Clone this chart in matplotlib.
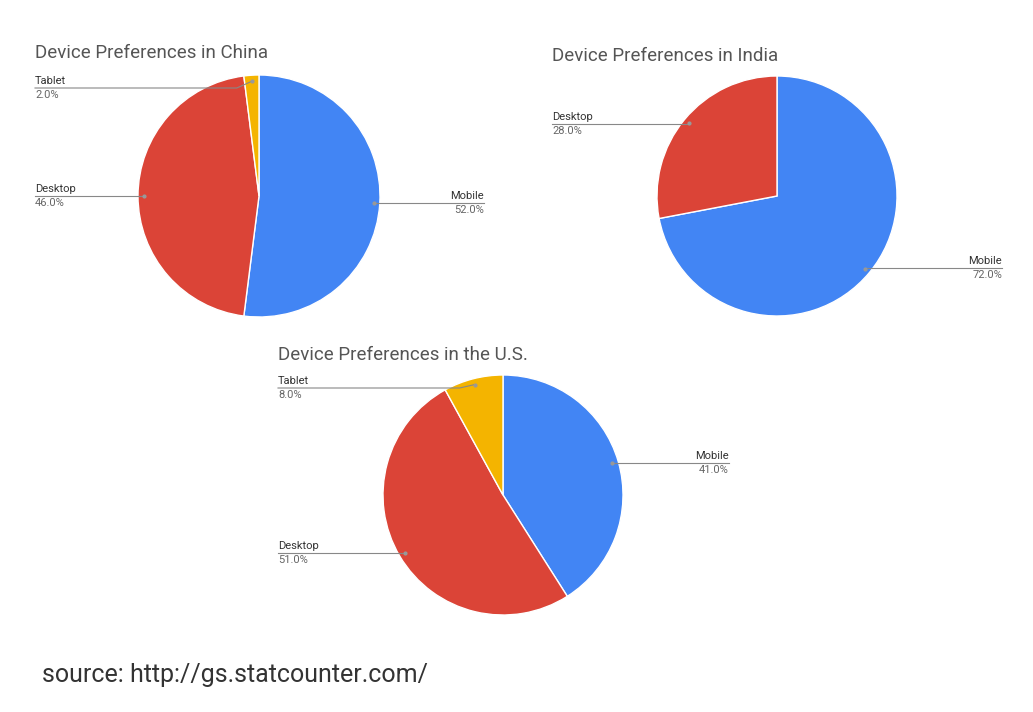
import numpy as np
import matplotlib.pyplot as plt

plt.rcParams['font.family'] = ['Roboto', 'DejaVu Sans']

# data
china_labels = ['Mobile', 'Desktop', 'Tablet']
china_values = [52.0, 46.0, 2.0]
india_labels = ['Mobile', 'Desktop']
india_values = [72.0, 28.0]
us_labels = ['Mobile', 'Desktop', 'Tablet']
us_values = [41.0, 51.0, 8.0]
colors = {'Mobile': '#4285F4', 'Desktop': '#DB4437', 'Tablet': '#F4B400'}

# layout in pixel coords: title, centre, radius, label placement (side, x end, y)
charts = [
    ('Device Preferences in China', china_labels, china_values, (259, 196), 121, (35, 53),
     {'Mobile': ('r', 484, 203), 'Desktop': ('l', 35, 196), 'Tablet': ('l', 35, 88)}),
    ('Device Preferences in India', india_labels, india_values, (777, 196), 120, (552, 56),
     {'Mobile': ('r', 1002, 268), 'Desktop': ('l', 552, 124)}),
    ('Device Preferences in the U.S.', us_labels, us_values, (503, 495), 120, (278, 355),
     {'Mobile': ('r', 729, 463), 'Desktop': ('l', 278, 553), 'Tablet': ('l', 278, 388)}),
]

fig = plt.figure(figsize=(10.33, 7.12), dpi=100)
ax = fig.add_axes([0, 0, 1, 1])

for title, labels, values, center, r, tpos, place in charts:
    ax.pie(values, colors=[colors[l] for l in labels], center=center, radius=r,
           startangle=-90, counterclock=True,
           wedgeprops=dict(edgecolor='white', linewidth=1))
    ax.text(tpos[0], tpos[1], title, fontsize=13.5, color='#555555', va='center', ha='left')
    total = sum(values)
    cum = 0
    for lab, v in zip(labels, values):
        mid = -90 + 360 * (cum + v / 2) / total
        cum += v
        px = center[0] + 0.95 * r * np.cos(np.radians(mid))
        py = center[1] + 0.95 * r * np.sin(np.radians(mid))
        side, xe, ly = place[lab]
        if abs(py - ly) > 3:
            bx = px - 15 if side == 'l' else px + 15
            xs, ys = [px, bx, xe], [py, ly, ly]
        else:
            xs, ys = [px, xe], [ly, ly]
        ax.plot(xs, ys, color='#888888', lw=0.8)
        ax.plot(px, py, 'o', color='#999999', ms=2)
        ha = 'left' if side == 'l' else 'right'
        ax.text(xe, ly - 2, lab, fontsize=8, color='#333333', ha=ha, va='bottom')
        ax.text(xe, ly + 2, f'{v:.1f}%', fontsize=8, color='#666666', ha=ha, va='top')

ax.text(42, 675, 'source: http://gs.statcounter.com/', fontsize=18, color='#333333',
        va='center', ha='left')

ax.set_xlim(0, 1033)
ax.set_ylim(712, 0)
ax.set_aspect('equal')
ax.axis('off')

fig.savefig('out.png', dpi=100, facecolor='white')
